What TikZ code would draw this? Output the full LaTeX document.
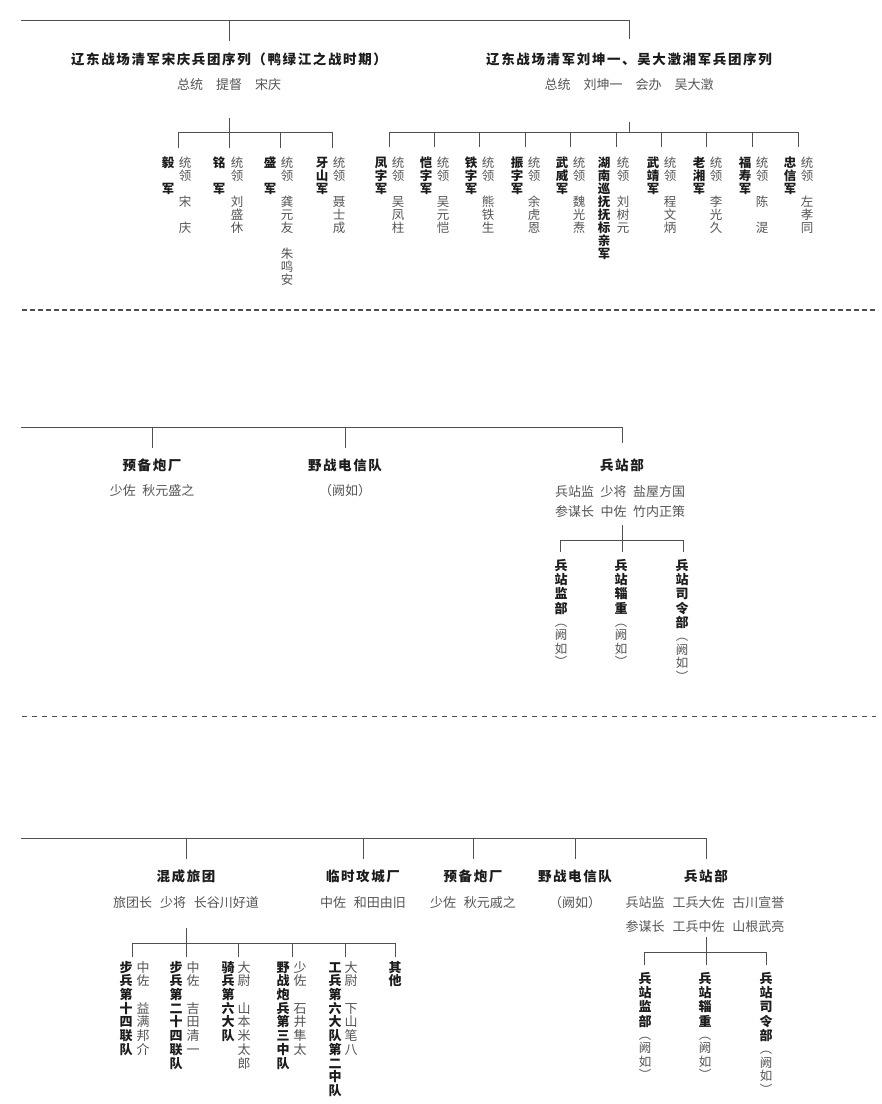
\documentclass[tikz,border=0pt]{standalone}
\usepackage{fontspec}
\setmainfont{Noto Sans CJK SC}
\definecolor{lc}{HTML}{505050}
\definecolor{tc}{HTML}{1C1C1C}
\definecolor{nc}{HTML}{555555}
\makeatletter
\def\vst#1{\vbox{\vst@a#1\relax}}
\def\vst@a#1{\ifx\relax#1\else\hbox to 1.1em{\hss\vrule height .88em depth .12em width 0pt\relax#1\hss}\expandafter\vst@a\fi}
\makeatother
\begin{document}
\begin{tikzpicture}[x=1pt,y=-1pt,
 ln/.style={draw=lc,line width=0.9pt},
 dashA/.style={draw=lc,line width=1.2pt,dash pattern=on 5pt off 3pt},
 dashB/.style={draw=lc,line width=1pt,dash pattern=on 5pt off 5pt},
 ttl/.style={anchor=base,inner sep=0pt,text=tc,font=\fontsize{13.5}{16}\selectfont\bfseries\addfontfeature{LetterSpace=12}},
 sub/.style={anchor=base,inner sep=0pt,text=nc,font=\fontsize{13}{16}\selectfont},
 vb/.style={anchor=north,inner sep=0pt,text=tc,font=\fontsize{12.5}{13}\selectfont\bfseries},
 vn/.style={anchor=north,inner sep=0pt,text=nc,font=\fontsize{12.5}{13}\selectfont},
 vbb/.style={anchor=north,inner sep=0pt,text=tc,font=\fontsize{13}{14.4}\selectfont\bfseries},
 vnb/.style={anchor=north,inner sep=0pt,text=nc,font=\fontsize{12.5}{12}\selectfont},
 vbc/.style={anchor=north,inner sep=0pt,text=tc,font=\fontsize{13}{13.7}\selectfont\bfseries},
 vnc/.style={anchor=north,inner sep=0pt,text=nc,font=\fontsize{13}{13.7}\selectfont},
]
\fill[white] (0,0) rectangle (882,1104);
\useasboundingbox (0,0) rectangle (882,1104);

% ================= Section 1 =================
\coordinate (s1L) at (21,20);
\coordinate (s1R) at (629,20);
\coordinate (s1Rd) at (629,39);
\coordinate (s1A) at (229,20);
\coordinate (s1Ad) at (229,41);
\draw[ln] (s1L) -- (s1R) -- (s1Rd);
\draw[ln] (s1A) -- (s1Ad);

\node[ttl] (A) at (229,64.5) {辽东战场清军宋庆兵团序列（鸭绿江之战时期）};
\node[sub] (Asub) at (229,89) {总统　提督　宋庆};
\node[ttl] (B) at (629,64) {辽东战场清军刘坤一、吴大澂湘军兵团序列};
\node[sub] (Bsub) at (629,89) {总统　刘坤一　会办　吴大澂};

% left subtree
\coordinate (aT) at (229,118);
\coordinate (aJ) at (229,132);
\coordinate (aL) at (178,132);
\coordinate (aR) at (332,132);
\draw[ln] (aT) -- (aJ);
\draw[ln] (aL) -- (aR);
\foreach \x [count=\i] in {178,229,280,332}{
  \coordinate (ad\i) at (\x,132); \coordinate (ae\i) at (\x,148);
  \draw[ln] (ad\i) -- (ae\i);}
\node[vb] (yi)  at (168,156) {\vst{毅　军}};
\node[vn] (yin) at (185,156) {\vst{统领　宋　庆}};
\node[vb] (ming)  at (219,156) {\vst{铭　军}};
\node[vn] (mingn) at (237,156) {\vst{统领　刘盛休}};
\node[vb] (sheng)  at (270,156) {\vst{盛　军}};
\node[vn] (shengn) at (287,156) {\vst{统领　龚元友　朱鸣安}};
\node[vb] (ya)  at (322,156) {\vst{牙山军}};
\node[vn] (yan) at (339,156) {\vst{统领　聂士成}};

% right subtree
\coordinate (bT) at (629,122);
\coordinate (bJ) at (629,132);
\coordinate (bL) at (389,132);
\coordinate (bR) at (798,132);
\draw[ln] (bT) -- (bJ);
\draw[ln] (bL) -- (bR);
\foreach \x [count=\i] in {389,434,479,525,570,616,661,706,752,798}{
  \coordinate (bd\i) at (\x,132); \coordinate (be\i) at (\x,147);
  \draw[ln] (bd\i) -- (be\i);}
\node[vb] (c1) at (381,156) {\vst{凤字军}};
\node[vn] (c1n) at (398,156) {\vst{统领　吴凤柱}};
\node[vb] (c2) at (426,156) {\vst{恺字军}};
\node[vn] (c2n) at (443,156) {\vst{统领　吴元恺}};
\node[vb] (c3) at (471,156) {\vst{铁字军}};
\node[vn] (c3n) at (488,156) {\vst{统领　熊铁生}};
\node[vb] (c4) at (517,156) {\vst{振字军}};
\node[vn] (c4n) at (534,156) {\vst{统领　余虎恩}};
\node[vb] (c5) at (562,156) {\vst{武威军}};
\node[vn] (c5n) at (579,156) {\vst{统领　魏光焘}};
\node[vb] (c6) at (604,156) {\vst{湖南巡抚抚标亲军}};
\node[vn] (c6n) at (623,156) {\vst{统领　刘树元}};
\node[vb] (c7) at (653,156) {\vst{武靖军}};
\node[vn] (c7n) at (670,156) {\vst{统领　程文炳}};
\node[vb] (c8) at (699,156) {\vst{老湘军}};
\node[vn] (c8n) at (716,156) {\vst{统领　李光久}};
\node[vb] (c9) at (745,156) {\vst{福寿军}};
\node[vn] (c9n) at (762,156) {\vst{统领　陈　湜}};
\node[vb] (c10) at (790,156) {\vst{忠信军}};
\node[vn] (c10n) at (807,156) {\vst{统领　左孝同}};

% dashed separator 1
\coordinate (dA1) at (22,310);
\coordinate (dA2) at (878,310);
\draw[dashA] (dA1) -- (dA2);

% ================= Section 2 =================
\coordinate (s2L) at (21,427);
\coordinate (s2R) at (622,427);
\coordinate (s2Rd) at (622,443);
\draw[ln] (s2L) -- (s2R) -- (s2Rd);
\foreach \x [count=\i] in {152,345}{
  \coordinate (s2d\i) at (\x,427); \coordinate (s2e\i) at (\x,448);
  \draw[ln] (s2d\i) -- (s2e\i);}
\node[ttl] (p1) at (152,470) {预备炮厂};
\node[sub] (p1s) at (152,495.5) {少佐\hspace{0.5em}秋元盛之};
\node[ttl] (p2) at (345,470) {野战电信队};
\node[sub] (p2s) at (345,495.5) {（阙如）};
\node[ttl] (p3) at (622,470) {兵站部};
\node[sub] (p3s) at (620,496) {兵站监\hspace{0.5em}少将\hspace{0.5em}盐屋方国};
\node[sub] (p3t) at (620,516) {参谋长\hspace{0.5em}中佐\hspace{0.5em}竹内正策};
\coordinate (qT) at (622,525);
\coordinate (qJ) at (622,540);
\coordinate (qL) at (560,540);
\coordinate (qR) at (683,540);
\draw[ln] (qT) -- (qJ);
\draw[ln] (qL) -- (qR);
\foreach \x [count=\i] in {560,622,683}{
  \coordinate (qd\i) at (\x,540); \coordinate (qe\i) at (\x,552);
  \draw[ln] (qd\i) -- (qe\i);}
\node[vbb] (q1) at (561,558.5) {\vst{兵站监部}};
\node[vnb] (q1n) at (q1.south) {\vst{︵阙如︶}};
\node[vbb] (q2) at (621,558.5) {\vst{兵站辎重}};
\node[vnb] (q2n) at (q2.south) {\vst{︵阙如︶}};
\node[vbb] (q3) at (682,558.5) {\vst{兵站司令部}};
\node[vnb] (q3n) at (q3.south) {\vst{︵阙如︶}};

% dashed separator 2
\coordinate (dB1) at (22,716);
\coordinate (dB2) at (876,716);
\draw[dashB] (dB1) -- (dB2);

% ================= Section 3 =================
\coordinate (s3L) at (21,838);
\coordinate (s3R) at (706,838);
\coordinate (s3Rd) at (706,859);
\draw[ln] (s3L) -- (s3R) -- (s3Rd);
\foreach \x [count=\i] in {186,363,473,575}{
  \coordinate (s3d\i) at (\x,838); \coordinate (s3e\i) at (\x,859);
  \draw[ln] (s3d\i) -- (s3e\i);}
\node[ttl] (r1) at (186,881.5) {混成旅团};
\node[sub] (r1s) at (186,907.5) {旅团长\hspace{0.6em}少将\hspace{0.6em}长谷川好道};
\node[ttl] (r2) at (363,881.5) {临时攻城厂};
\node[sub] (r2s) at (363,907.5) {中佐\hspace{0.6em}和田由旧};
\node[ttl] (r3) at (473,881.5) {预备炮厂};
\node[sub] (r3s) at (473,907.5) {少佐\hspace{0.6em}秋元戚之};
\node[ttl] (r4) at (575,881.5) {野战电信队};
\node[sub] (r4s) at (575,907.5) {（阙如）};
\node[ttl] (r5) at (706,881.5) {兵站部};
\node[sub] (r5s) at (705,907.5) {兵站监\hspace{0.6em}工兵大佐\hspace{0.6em}古川宣誉};
\node[sub] (r5t) at (705,931) {参谋长\hspace{0.6em}工兵中佐\hspace{0.6em}山根武亮};

% mixed brigade subtree
\coordinate (mT) at (186,928);
\coordinate (mJ) at (186,943);
\coordinate (mL) at (132,943);
\coordinate (mR) at (395,943);
\draw[ln] (mT) -- (mJ);
\draw[ln] (mL) -- (mR);
\foreach \x [count=\i] in {132,186,238,292,345,395}{
  \coordinate (md\i) at (\x,943); \coordinate (me\i) at (\x,957);
  \draw[ln] (md\i) -- (me\i);}
\node[vbc] (m1) at (126,960.5) {\vst{步兵第十四联队}};
\node[vnc] (m1n) at (143,960.5) {\vst{中佐　益满邦介}};
\node[vbc] (m2) at (176,960.5) {\vst{步兵第二十四联队}};
\node[vnc] (m2n) at (193,960.5) {\vst{中佐　吉田清一}};
\node[vbc] (m3) at (228,960.5) {\vst{骑兵第六大队}};
\node[vnc] (m3n) at (244,960.5) {\vst{大尉　山本米太郎}};
\node[vbc] (m4) at (283,960.5) {\vst{野战炮兵第三中队}};
\node[vnc] (m4n) at (300,960.5) {\vst{少佐　石井隼太}};
\node[vbc] (m5) at (335,960.5) {\vst{工兵第六大队第二中队}};
\node[vnc] (m5n) at (351,960.5) {\vst{大尉　下山笔八}};
\node[vbc] (m6) at (395,960.5) {\vst{其他}};

% line-of-communication subtree
\coordinate (nT) at (706,937);
\coordinate (nJ) at (706,952);
\coordinate (nL) at (644,952);
\coordinate (nR) at (766,952);
\draw[ln] (nT) -- (nJ);
\draw[ln] (nL) -- (nR);
\foreach \x [count=\i] in {644,706,766}{
  \coordinate (nd\i) at (\x,952); \coordinate (ne\i) at (\x,965);
  \draw[ln] (nd\i) -- (ne\i);}
\node[vbb] (n1) at (645,971.5) {\vst{兵站监部}};
\node[vnb] (n1n) at (n1.south) {\vst{︵阙如︶}};
\node[vbb] (n2) at (705,971.5) {\vst{兵站辎重}};
\node[vnb] (n2n) at (n2.south) {\vst{︵阙如︶}};
\node[vbb] (n3) at (766,971.5) {\vst{兵站司令部}};
\node[vnb] (n3n) at (n3.south) {\vst{︵阙如︶}};
\end{tikzpicture}
\end{document}
